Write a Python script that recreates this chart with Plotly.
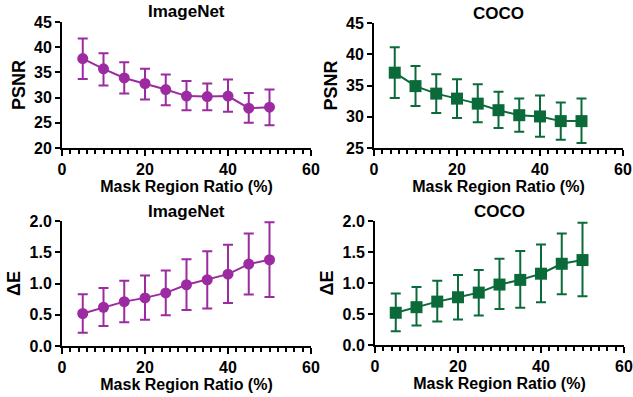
import plotly.graph_objects as go

ratio = [5, 10, 15, 20, 25, 30, 35, 40, 45, 50]

# ImageNet PSNR
in_psnr = [37.75, 35.7, 33.9, 32.8, 31.6, 30.3, 30.2, 30.3, 27.9, 28.1]
in_psnr_hi = [41.74, 38.8, 37.0, 35.7, 34.6, 33.3, 32.8, 33.6, 30.9, 31.6]
in_psnr_lo = [33.7, 32.4, 30.8, 29.6, 28.5, 27.5, 27.5, 27.2, 25.0, 24.5]

# COCO PSNR
co_psnr = [37.05, 34.9, 33.7, 32.9, 32.1, 31.05, 30.25, 30.05, 29.3, 29.3]
co_psnr_hi = [41.1, 38.1, 36.8, 36.0, 35.2, 34.0, 32.9, 33.4, 32.3, 32.9]
co_psnr_lo = [33.0, 31.7, 30.6, 29.8, 29.1, 28.2, 27.6, 26.8, 26.3, 25.8]

# ImageNet Delta E
in_de = [0.52, 0.62, 0.71, 0.77, 0.85, 0.98, 1.06, 1.15, 1.31, 1.38]
in_de_hi = [0.83, 0.93, 1.045, 1.13, 1.21, 1.39, 1.515, 1.62, 1.80, 1.98]
in_de_lo = [0.21, 0.32, 0.38, 0.42, 0.49, 0.575, 0.60, 0.69, 0.825, 0.785]

# COCO Delta E
co_de = [0.52, 0.61, 0.70, 0.77, 0.845, 0.975, 1.05, 1.15, 1.31, 1.37]
co_de_hi = [0.83, 0.935, 1.035, 1.13, 1.21, 1.39, 1.515, 1.62, 1.80, 1.97]
co_de_lo = [0.22, 0.315, 0.38, 0.41, 0.475, 0.58, 0.60, 0.69, 0.82, 0.785]

titles = ["ImageNet", "COCO", "ImageNet", "COCO"]
x_title = "Mask Region Ratio (%)"
y_titles = ["PSNR", "PSNR", "ΔE", "ΔE"]

PURPLE = "#9C2AA0"
GREEN = "#0B6A39"
FONT = "Liberation Sans, Arial, sans-serif"

panels = [
    (in_psnr, in_psnr_hi, in_psnr_lo, PURPLE, "circle", [20, 45], 5, [62, 311], [22, 148]),
    (co_psnr, co_psnr_hi, co_psnr_lo, GREEN, "square", [25, 45], 5, [374, 623], [23, 148]),
    (in_de, in_de_hi, in_de_lo, PURPLE, "circle", [0, 2.0], 0.5, [62, 311], [221, 346]),
    (co_de, co_de_hi, co_de_lo, GREEN, "square", [0, 2.0], 0.5, [375, 624], [221, 345]),
]

W, H = 633, 397
fig = go.Figure()
layout = {}
annotations = []
for i, (vals, hi, lo, col, sym, yr, ydt, xpx, ypx) in enumerate(panels):
    n = "" if i == 0 else str(i + 1)
    fig.add_trace(go.Scatter(
        x=ratio, y=vals, mode="lines+markers",
        xaxis="x" + n, yaxis="y" + n,
        line=dict(color=col, width=2),
        marker=dict(symbol=sym, size=11 if sym == "circle" else 12, color=col),
        error_y=dict(type="data", symmetric=False,
                     array=[h - v for h, v in zip(hi, vals)],
                     arrayminus=[v - l for l, v in zip(lo, vals)],
                     color=col, thickness=2, width=5),
        showlegend=False, cliponaxis=False,
    ))
    xd = [xpx[0] / W, xpx[1] / W]
    yd = [1 - ypx[1] / H, 1 - ypx[0] / H]
    tf = dict(family=FONT, size=16, color="black", weight="bold")
    layout["xaxis" + n] = dict(
        domain=xd, range=[0, 60], anchor="y" + n, dtick=20, tick0=0, automargin=False,
        showgrid=False, zeroline=False, showline=True, linecolor="black", linewidth=2,
        ticks="outside", ticklen=6, tickwidth=2, tickcolor="black",
        minor=dict(ticks="outside", dtick=2, ticklen=4, tickwidth=1.5, tickcolor="black", showgrid=False),
        tickfont=tf, title=dict(text=x_title, font=dict(family=FONT, size=16, color="black", weight="bold"), standoff=2),
    )
    layout["yaxis" + n] = dict(
        domain=yd, range=yr, anchor="x" + n, dtick=ydt, automargin=False,
        tickformat=".1f" if ydt < 1 else "d",
        showgrid=False, zeroline=False, showline=True, linecolor="black", linewidth=2,
        ticks="outside", ticklen=5, tickwidth=2, tickcolor="black",
        tickfont=tf, title=dict(text=y_titles[i], font=dict(family=FONT, size=18, color="black", weight="bold"), standoff=4),
    )
    annotations.append(dict(
        text=titles[i], x=(xd[0] + xd[1]) / 2, xref="paper",
        y=1 - (ypx[0] - 10) / H, yref="paper", yanchor="middle", xanchor="center",
        showarrow=False, font=dict(family=FONT, size=17, color="black", weight="bold"),
    ))

fig.update_layout(
    width=W, height=H, margin=dict(l=0, r=0, t=0, b=0),
    paper_bgcolor="white", plot_bgcolor="white",
    annotations=annotations, **layout,
)
fig.write_html("out.html", config={"displayModeBar": False},
               post_script="document.body.style.margin='0px';")
